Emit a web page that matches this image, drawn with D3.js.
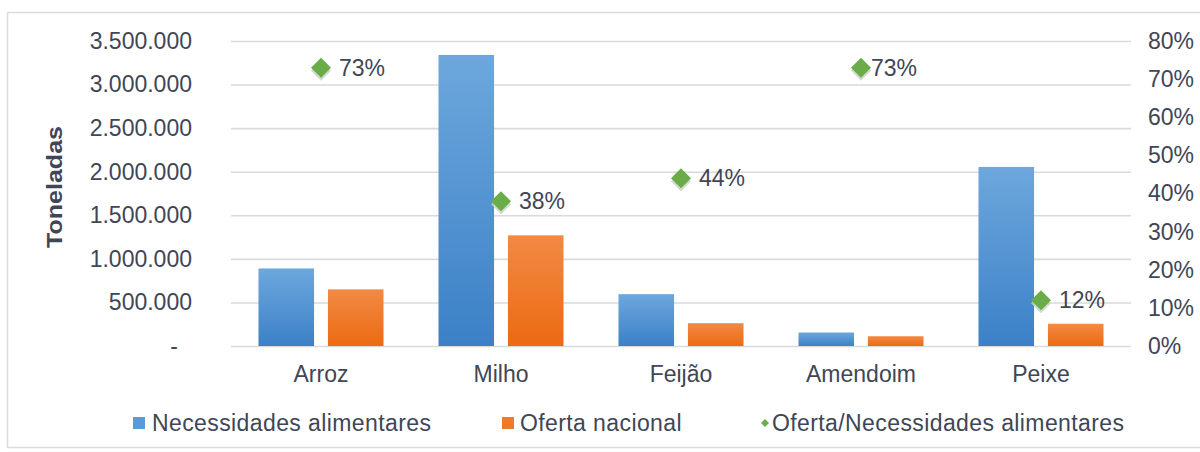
<!DOCTYPE html>
<html>
<head>
<meta charset="utf-8">
<script src="https://cdn.jsdelivr.net/npm/d3@7"></script>
<style>
  html, body { margin: 0; padding: 0; background: #fff; }
  svg { display: block; }
  text { font-family: "Liberation Sans", Arial, sans-serif; fill: #404656; }
</style>
</head>
<body>
<svg id="chart" width="1200" height="452"></svg>
<script>
// ---- data ----
const categories = ["Arroz", "Milho", "Feijão", "Amendoim", "Peixe"];
const necessidades = [890000, 3340000, 595000, 155000, 2055000];
const oferta = [650000, 1270000, 262000, 112000, 255000];
const ratio = [0.73, 0.38, 0.44, 0.73, 0.12];
const leftTicks = [0, 500000, 1000000, 1500000, 2000000, 2500000, 3000000, 3500000];
const rightTicks = [0, 0.1, 0.2, 0.3, 0.4, 0.5, 0.6, 0.7, 0.8];
const seriesNames = ["Necessidades alimentares", "Oferta nacional", "Oferta/Necessidades alimentares"];
const yTitle = "Toneladas";

// ---- layout ----
const svg = d3.select("#chart");
const plot = { left: 231, right: 1131, top: 41, bottom: 346 };
const fontSize = 23;

const locale = d3.formatLocale({ decimal: ",", thousands: ".", grouping: [3], currency: ["", ""] });
const fmtNum = locale.format(",.0f");
const fmtPct = d3.format(".0%");

const x = d3.scaleBand().domain(categories).range([plot.left, plot.right]).padding(0);
const groupW = 125;
const xInner = d3.scaleBand().domain(["nec", "of"])
  .range([(x.bandwidth() - groupW) / 2, (x.bandwidth() + groupW) / 2])
  .paddingInner(0.2).paddingOuter(0);
const yL = d3.scaleLinear().domain([0, 3500000]).range([plot.bottom, plot.top]);
const yR = d3.scaleLinear().domain([0, 0.8]).range([plot.bottom, plot.top]);

// defs: gradients
const defs = svg.append("defs");
function grad(id, top, bottom) {
  const g = defs.append("linearGradient").attr("id", id)
    .attr("x1", 0).attr("y1", 0).attr("x2", 0).attr("y2", 1);
  g.append("stop").attr("offset", "0%").attr("stop-color", top);
  g.append("stop").attr("offset", "100%").attr("stop-color", bottom);
}
grad("gBlue", "#6da7dd", "#3b81c7");
grad("gOrange", "#f28a44", "#ec6a12");

// chart border
svg.append("rect").attr("x", 7.5).attr("y", 12.5).attr("width", 1200).attr("height", 435)
  .attr("fill", "#fff").attr("stroke", "#dcdcdc").attr("stroke-width", 1.5);

// gridlines (left axis)
const gridAxis = d3.axisLeft(yL).tickValues(leftTicks).tickSize(-(plot.right - plot.left)).tickFormat("");
const gg = svg.append("g").attr("transform", `translate(${plot.left},0)`).call(gridAxis);
gg.select(".domain").remove();
gg.selectAll(".tick line").attr("stroke", "#dadada").attr("stroke-width", 1.6);

// left axis labels
const leftAxis = d3.axisLeft(yL).tickValues(leftTicks).tickSize(0).tickPadding(0)
  .tickFormat(d => d === 0 ? "-" : fmtNum(d));
const la = svg.append("g").attr("transform", `translate(192,0)`).call(leftAxis);
la.select(".domain").remove();
la.selectAll(".tick text").attr("font-size", fontSize).attr("fill", "#404656")
  .attr("font-family", '"Liberation Sans", Arial, sans-serif')
  .attr("dx", d => d === 0 ? -14 : 0);

// right axis labels
const rightAxis = d3.axisRight(yR).tickValues(rightTicks).tickSize(0).tickPadding(0)
  .tickFormat(fmtPct);
const ra = svg.append("g").attr("transform", `translate(1148,0)`).call(rightAxis);
ra.select(".domain").remove();
ra.selectAll(".tick text").attr("font-size", fontSize).attr("fill", "#404656")
  .attr("font-family", '"Liberation Sans", Arial, sans-serif');

// x axis labels
const xAxis = d3.axisBottom(x).tickSize(0).tickPadding(0);
const xa = svg.append("g").attr("transform", `translate(0,${plot.bottom})`).call(xAxis);
xa.select(".domain").remove();
xa.selectAll(".tick text").attr("font-size", fontSize).attr("fill", "#404656")
  .attr("font-family", '"Liberation Sans", Arial, sans-serif')
  .attr("dy", null).attr("y", 36);

// y title
svg.append("text")
  .attr("transform", `translate(62,187) rotate(-90)`)
  .attr("text-anchor", "middle")
  .attr("font-size", 22).attr("font-weight", "bold")
  .attr("textLength", 122).attr("lengthAdjust", "spacingAndGlyphs")
  .text(yTitle);

// bars
const groups = svg.append("g").selectAll("g").data(categories).join("g")
  .attr("transform", d => `translate(${x(d)},0)`);
groups.append("rect")
  .attr("x", xInner("nec")).attr("width", xInner.bandwidth())
  .attr("y", (d, i) => yL(necessidades[i]))
  .attr("height", (d, i) => yL(0) - yL(necessidades[i]))
  .attr("fill", "url(#gBlue)");
groups.append("rect")
  .attr("x", xInner("of")).attr("width", xInner.bandwidth())
  .attr("y", (d, i) => yL(oferta[i]))
  .attr("height", (d, i) => yL(0) - yL(oferta[i]))
  .attr("fill", "url(#gOrange)");

// diamonds + labels
const dsz = 10;
const diamond = `M0,${-dsz} L${dsz},0 L0,${dsz} L${-dsz},0 Z`;
const pts = svg.append("g").selectAll("g").data(categories).join("g")
  .attr("transform", (d, i) => `translate(${x(d) + x.bandwidth() / 2},${yR(ratio[i])})`);
pts.append("path").attr("d", diamond).attr("transform", "translate(0,3)")
  .attr("fill", "#c8cfc4").attr("opacity", 0.8);
pts.append("path").attr("d", diamond).attr("fill", "#6aac48");
const labelDx = { "Amendoim": 10 };
pts.append("text")
  .attr("x", d => labelDx[d] !== undefined ? labelDx[d] : 18)
  .attr("dy", "0.35em")
  .attr("font-size", fontSize)
  .text((d, i) => fmtPct(ratio[i]));

// legend
const legY = 423;
const leg = svg.append("g");
const legX = [133, 502, 762];
const legText = [152, 520, 772];
leg.append("rect").attr("x", legX[0]).attr("y", legY - 6).attr("width", 12).attr("height", 12).attr("fill", "#5a9ad8");
leg.append("rect").attr("x", legX[1]).attr("y", legY - 6).attr("width", 12).attr("height", 12).attr("fill", "#ef7a2c");
leg.append("path").attr("d", "M0,-4 L4,0 L0,4 L-4,0 Z").attr("transform", `translate(${legX[2] + 3},${legY})`).attr("fill", "#6aac48");
seriesNames.forEach((n, i) => {
  leg.append("text").attr("x", legText[i]).attr("y", legY).attr("dy", "0.35em")
    .attr("font-size", fontSize).attr("letter-spacing", 0.4).text(n);
});
</script>
</body>
</html>
